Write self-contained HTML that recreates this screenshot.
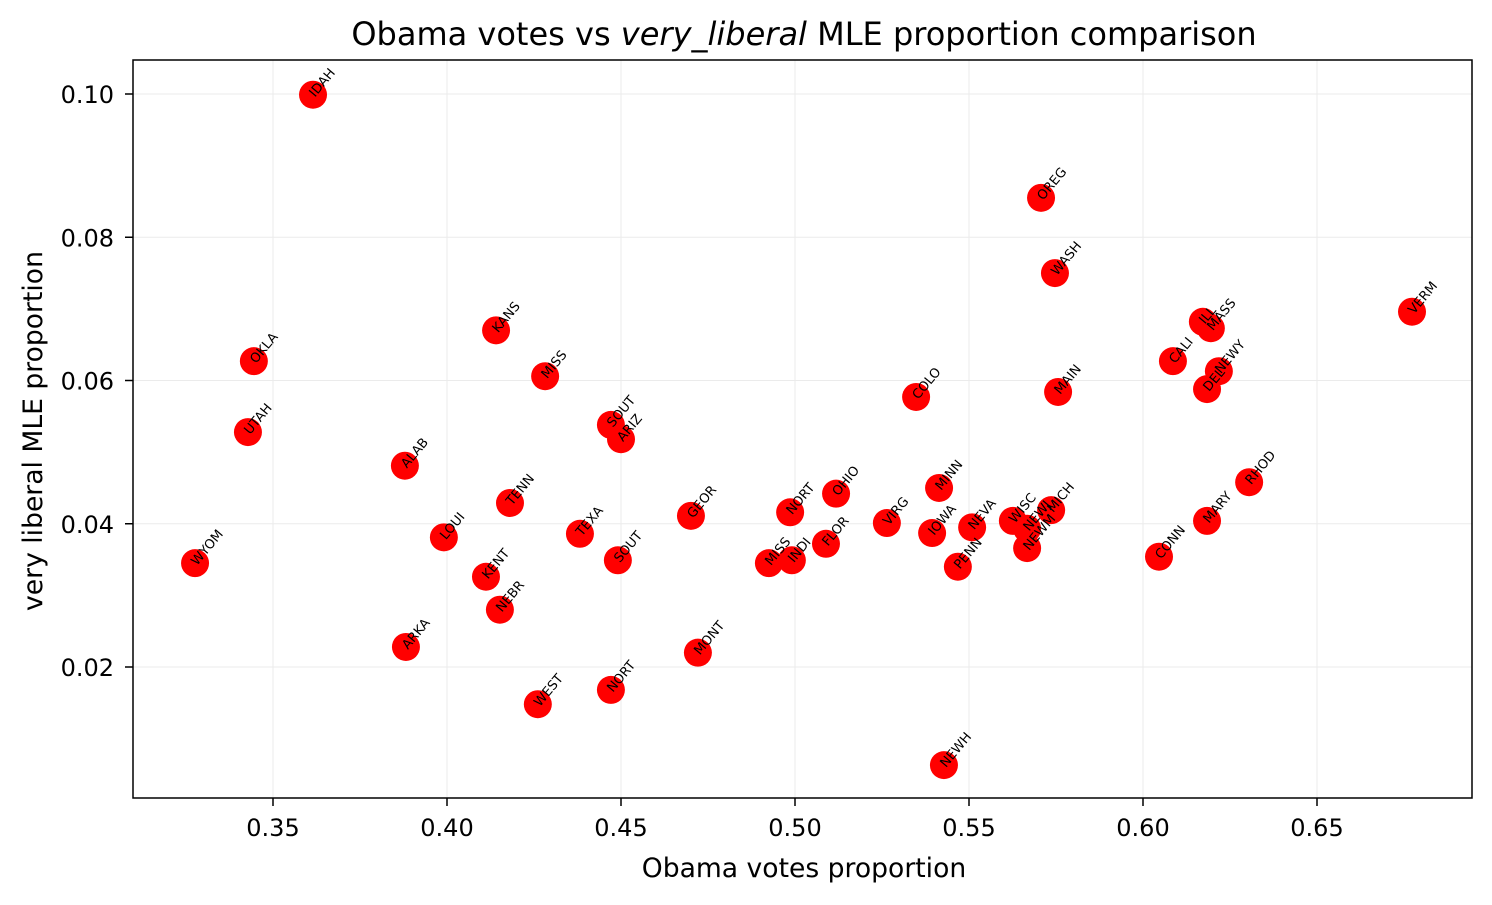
<!DOCTYPE html>
<html><head><meta charset="utf-8"><style>body{margin:0;background:#fff}svg{font-family:"DejaVu Sans","Liberation Sans",sans-serif}</style></head>
<body>
<svg id="chart" width="1492" height="900" xmlns="http://www.w3.org/2000/svg">
<rect width="1492" height="900" fill="#fff"/>
<g id="grid"></g>
<g id="marks"></g>
<g id="labels"></g>
<rect x="133" y="60" width="1339" height="738" fill="none" stroke="#000" stroke-width="1.5"/>
<g id="axes"></g>
<text x="804" y="45" text-anchor="middle" font-size="32">Obama votes vs <tspan font-style="italic">very_liberal</tspan> MLE proportion comparison</text>
<text x="804" y="877" text-anchor="middle" font-size="26.6">Obama votes proportion</text>
<text transform="translate(42,431) rotate(-90)" text-anchor="middle" font-size="26.6">very liberal MLE proportion</text>
</svg>
<script>
const states=["IDAH","OREG","WASH","VERM","ILL","MASS","KANS","OKLA","CALI","NEWY","MISS","DEL","MAIN","COLO","SOUT","UTAH","ARIZ","ALAB","RHOD","MINN","OHIO","TENN","MICH","NORT","GEOR","MARY","WISC","VIRG","NEVA","NEWJ","IOWA","TEXA","LOUI","FLOR","NEWM","CONN","SOUT","INDI","MISS","WYOM","PENN","KENT","NEBR","ARKA","MONT","NORT","WEST","NEWH"];
const obama=[0.3615,0.5707,0.5747,0.6773,0.6172,0.6195,0.4141,0.3445,0.6086,0.6218,0.4282,0.6184,0.5756,0.5348,0.4471,0.3428,0.450,0.3879,0.6305,0.5414,0.5118,0.4181,0.5736,0.4986,0.4701,0.6184,0.5626,0.5264,0.5509,0.5667,0.5394,0.4382,0.3991,0.5089,0.5667,0.6046,0.4491,0.4991,0.4925,0.3276,0.5468,0.4112,0.4152,0.3882,0.4721,0.4471,0.4261,0.5428];
const liberal=[0.0999,0.0855,0.0750,0.0696,0.0682,0.0673,0.0670,0.0627,0.0627,0.0613,0.0606,0.0588,0.0584,0.0577,0.0538,0.0528,0.0518,0.0481,0.0458,0.0450,0.0442,0.0429,0.0419,0.0416,0.0411,0.0404,0.0404,0.0401,0.0395,0.0393,0.0387,0.0386,0.0381,0.0372,0.0366,0.0354,0.0349,0.0349,0.0345,0.0345,0.0340,0.0326,0.0280,0.0228,0.0220,0.0168,0.0148,0.0063];
const xTicks=[0.35,0.40,0.45,0.50,0.55,0.60,0.65];
const yTicks=[0.02,0.04,0.06,0.08,0.10];
const X=v=>273+(v-0.35)*3480;
const Y=v=>94+(0.10-v)*7162.5;
const NS="http://www.w3.org/2000/svg";
function mk(t,a,p){const e=document.createElementNS(NS,t);for(const k in a)e.setAttribute(k,a[k]);p.appendChild(e);return e;}
const grid=document.getElementById('grid'),axes=document.getElementById('axes'),marks=document.getElementById('marks'),labels=document.getElementById('labels');
xTicks.forEach(t=>{const x=X(t);
 const g=mk('line',{x1:x,x2:x,y1:60,y2:798,stroke:'#ebebeb','stroke-width':1},grid);
 
 const l=mk('line',{x1:x,x2:x,y1:798,y2:806,stroke:'#000','stroke-width':1.5},axes);
 
 const s=mk('text',{x:x,y:836,'text-anchor':'middle','font-size':24},axes);s.textContent=t.toFixed(2);
 });
yTicks.forEach(t=>{const y=Y(t);
 const g=mk('line',{x1:133,x2:1472,y1:y,y2:y,stroke:'#ebebeb','stroke-width':1},grid);
 
 const l=mk('line',{x1:125,x2:133,y1:y,y2:y,stroke:'#000','stroke-width':1.5},axes);
 
 const s=mk('text',{x:114,y:y+9,'text-anchor':'end','font-size':24},axes);s.textContent=t.toFixed(2);
 });
states.forEach((n,i)=>{const x=X(obama[i]),y=Y(liberal[i]);
 const c=mk('circle',{cx:x,cy:y,r:14,fill:'#ff0000'},marks);
 
 const t=mk('text',{x:0,y:0,transform:`translate(${x+2},${y+3}) rotate(-50)`,'font-size':13},labels);t.textContent=n;
 });
</script>
</body></html>
